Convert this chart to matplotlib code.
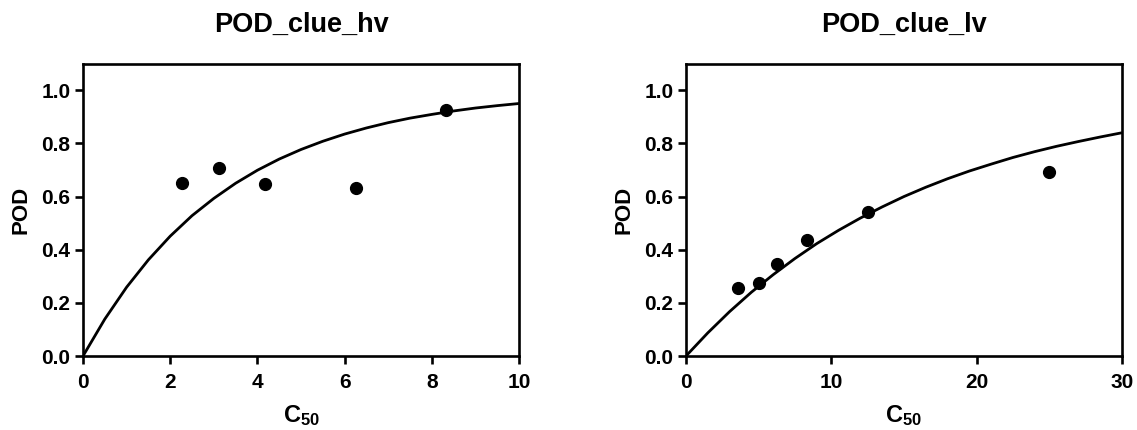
import numpy as np
import matplotlib

matplotlib.use("Agg")
import matplotlib.pyplot as plt  # noqa: E402

plt.rcParams["font.family"] = ["Liberation Sans", "DejaVu Sans"]
plt.rcParams["font.weight"] = "bold"
plt.rcParams["mathtext.fontset"] = "custom"
plt.rcParams["mathtext.rm"] = "Liberation Sans:bold"
plt.rcParams["mathtext.bf"] = "Liberation Sans:bold"

# observed points
hv_c50 = [2.27, 3.12, 4.17, 6.25, 8.33]
hv_pod = [0.650, 0.706, 0.646, 0.634, 0.924]
lv_c50 = [3.57, 5.0, 6.25, 8.33, 12.5, 25.0]
lv_pod = [0.255, 0.276, 0.346, 0.436, 0.540, 0.692]

# fitted curves
hv_curve_x = [0, 0.5, 1, 1.5, 2, 2.5, 3, 3.5, 4, 4.5, 5, 5.5, 6, 6.5, 7, 7.5, 8, 8.5, 9, 9.5, 10]
hv_curve_y = [0.0, 0.139, 0.259, 0.362, 0.451, 0.528, 0.593, 0.650, 0.699, 0.741, 0.777,
              0.808, 0.835, 0.858, 0.878, 0.895, 0.909, 0.922, 0.933, 0.942, 0.950]
lv_curve_x = [0, 1.5, 3, 4.5, 6, 7.5, 9, 10.5, 12, 13.5, 15, 16.5, 18, 19.5, 21, 22.5, 24, 25.5, 27, 28.5, 30]
lv_curve_y = [0.0, 0.087, 0.167, 0.240, 0.306, 0.367, 0.423, 0.473, 0.519, 0.561, 0.600,
              0.635, 0.667, 0.696, 0.722, 0.747, 0.769, 0.789, 0.807, 0.824, 0.840]

yticks = [0.0, 0.2, 0.4, 0.6, 0.8, 1.0]

panels = [
    ("POD_clue_hv", hv_c50, hv_pod, hv_curve_x, hv_curve_y, 10, [0, 2, 4, 6, 8, 10]),
    ("POD_clue_lv", lv_c50, lv_pod, lv_curve_x, lv_curve_y, 30, [0, 10, 20, 30]),
]

fig = plt.figure(figsize=(11.37, 4.30), dpi=100)
lefts = [0.073, 0.6033]

for left, (title, cx, cy, fx, fy, xmax, xticks) in zip(lefts, panels):
    ax = fig.add_axes([left, 0.172, 0.3835, 0.68])
    ax.plot(fx, fy, color="black", lw=2.0, solid_capstyle="butt")
    ax.plot(cx, cy, "o", color="black", markersize=8.5, clip_on=False)
    ax.set_xlim(0, xmax)
    ax.set_ylim(0, 1.1)
    ax.set_xticks(xticks)
    ax.set_yticks(yticks)
    ax.set_yticklabels([f"{v:.1f}" for v in yticks])
    for s in ax.spines.values():
        s.set_linewidth(1.9)
    ax.tick_params(direction="out", length=6, width=1.9, labelsize=15)
    ax.tick_params(axis="y", pad=3)
    ax.tick_params(axis="x", pad=6)
    for lab in ax.get_xticklabels() + ax.get_yticklabels():
        lab.set_fontweight("bold")
    ax.set_title(title, fontsize=19.5, fontweight="bold", pad=23)
    ax.set_xlabel(r"$\mathbf{C_{50}}$", fontsize=17, labelpad=8)
    ax.set_ylabel("POD", fontsize=16, fontweight="bold", labelpad=7)

fig.savefig("out.png", dpi=100)
